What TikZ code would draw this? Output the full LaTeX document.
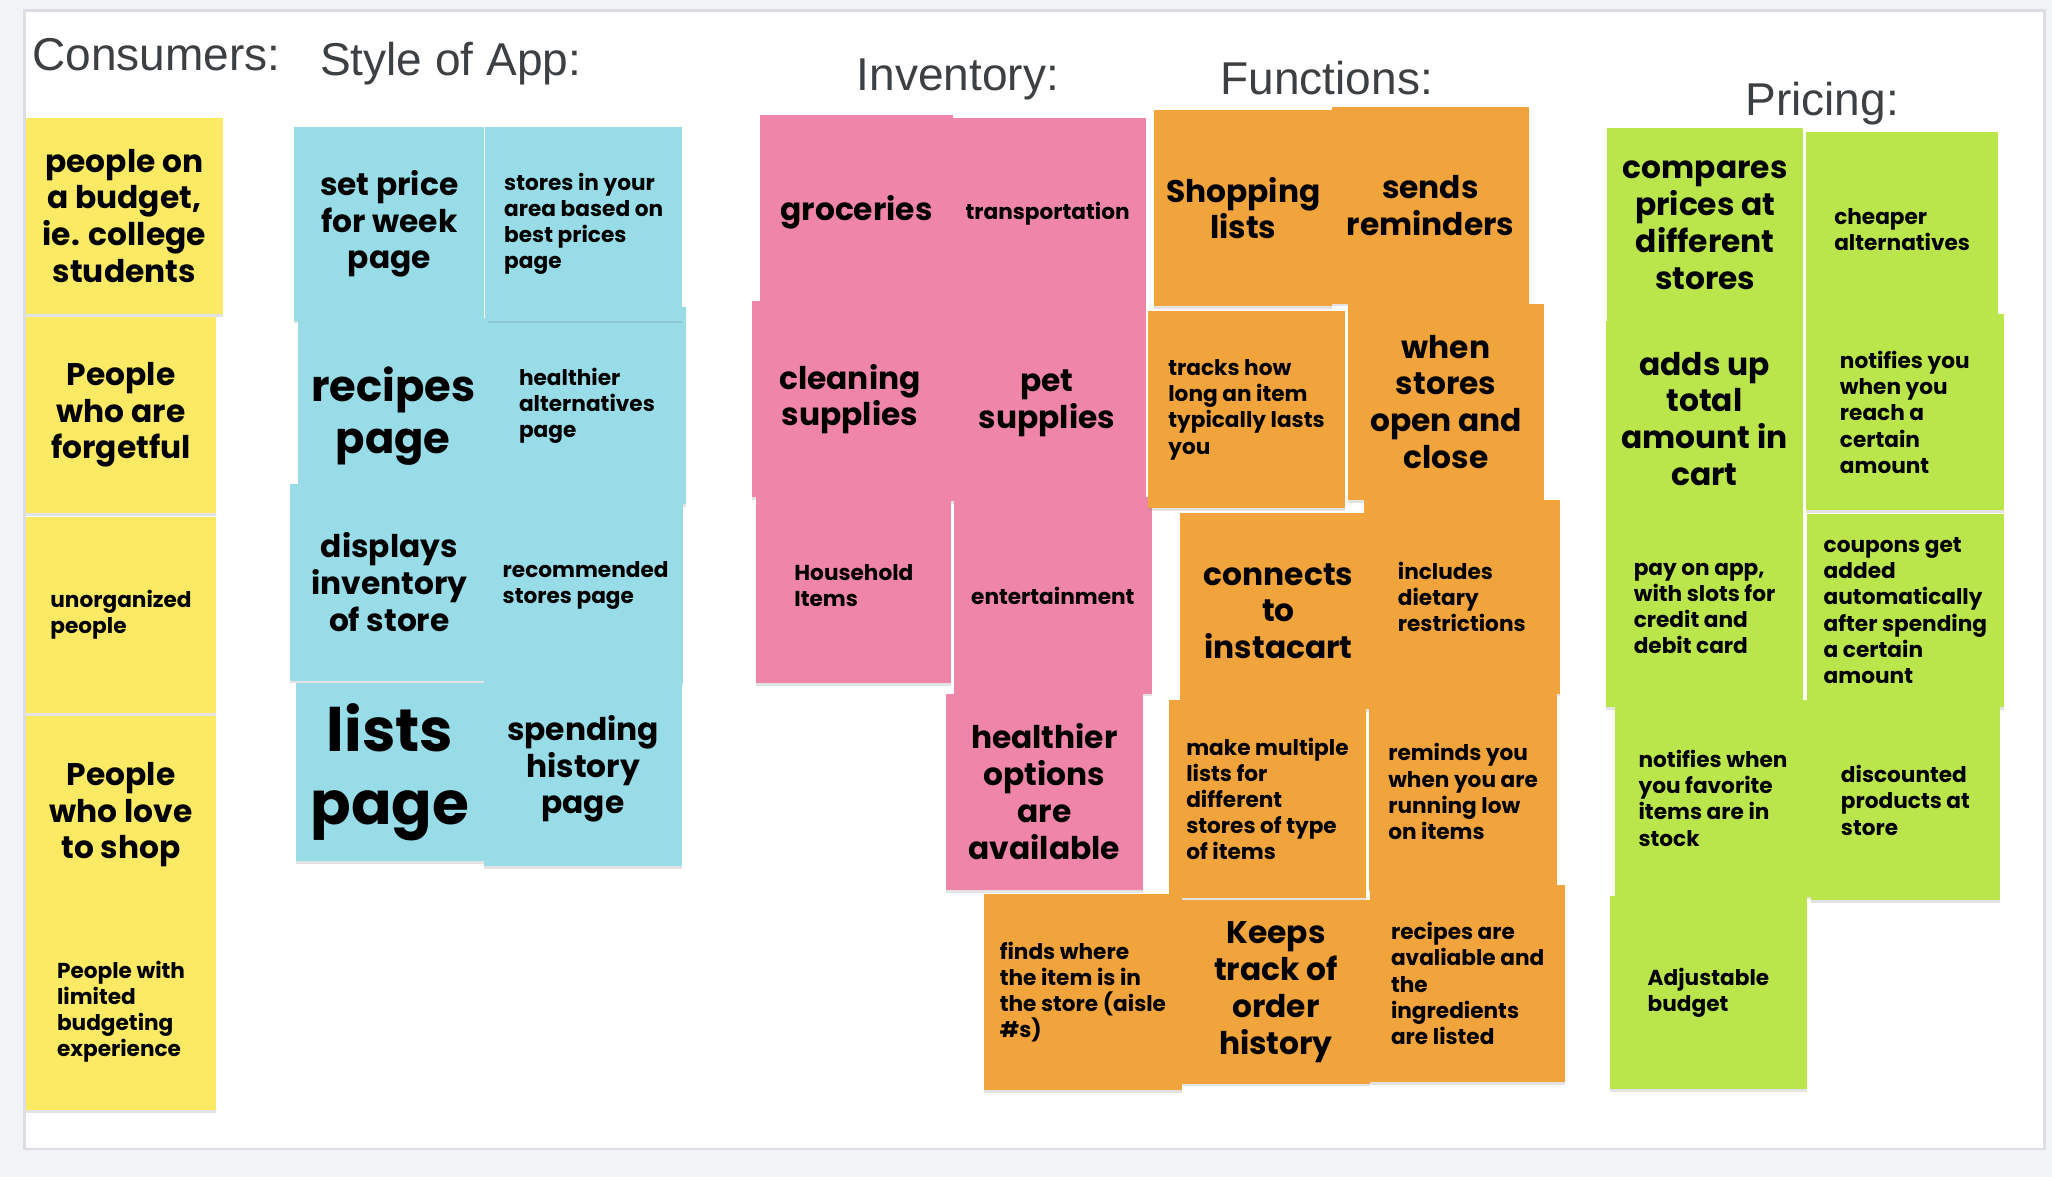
\documentclass[tikz,border=0pt]{standalone}
\usepackage{fontspec}
\setmainfont{Poppins}
\newfontfamily\headfont{Liberation Sans}
\usepackage{xcolor}
\definecolor{pagegray}{HTML}{F1F3F4}
\definecolor{edgegray}{HTML}{DCDEE1}
\definecolor{titlegray}{HTML}{3C4043}
\definecolor{stickyyellow}{HTML}{FCEA64}
\definecolor{stickyblue}{HTML}{98DCE8}
\definecolor{stickypink}{HTML}{EF86A9}
\definecolor{stickyorange}{HTML}{F1A33C}
\definecolor{stickygreen}{HTML}{BBE64B}
\usepackage{tikz}
\usetikzlibrary{shadows}
\tikzstyle{note} = [
    rectangle,
    inner sep=0pt,
    minimum width=1.5cm,
    minimum height=1.5cm,
    text=black,
    drop shadow={shadow xshift=0pt, shadow yshift=-0.6pt, opacity=0.22}
]
\tikzstyle{bignote} = [
    note,
    align=center,
    font=\bfseries\fontsize{6.8}{8}\selectfont
]
\tikzstyle{smallnote} = [
    note,
    align=left,
    font=\bfseries\fontsize{4.7}{5.7}\selectfont
]
\tikzstyle{heading} = [
    anchor=base west,
    inner sep=0pt,
    text=titlegray,
    font=\headfont\fontsize{10}{12}\selectfont
]

\begin{document}
\begin{tikzpicture}[x=0.01cm, y=-0.01cm]

\useasboundingbox (0,0) rectangle (1568,899);
\fill[pagegray] (0,0) rectangle (1568,899);
\filldraw[fill=white, draw=edgegray, line width=0.6pt] (19,8) rectangle (1562,878);

% headings
\node (hcons) [heading] at (24,54) {Consumers:};
\node (happ) [heading] at (244,58) {Style of App:};
\node (hinv) [heading] at (654,69) {Inventory:};
\node (hfun) [heading] at (932,72) {Functions:};
\node (hpri) [heading] at (1333,88) {Pricing:};

% consumers
\node (cons1) [bignote, fill=stickyyellow] at (95,165)
    {people on\\a budget,\\ie. college\\students};
\node (cons2) [bignote, fill=stickyyellow, minimum width=1.45cm] at (92.5,317)
    {People\\who are\\forgetful};
\node (cons3) [smallnote, fill=stickyyellow, minimum width=1.45cm] at (92.5,470)
    {unorganized\\people};
\node (cons4) [bignote, fill=stickyyellow, minimum width=1.45cm] at (92.5,622.5)
    {People\\who love\\to shop};
\node (cons5) [smallnote, fill=stickyyellow, minimum width=1.45cm] at (92.5,773)
    {People with\\limited\\budgeting\\experience};

% style of app
\node (app1) [bignote, fill=stickyblue, minimum width=1.45cm, minimum height=1.48cm] at (297.5,171)
    {set price\\for week\\page};
\node (app4) [smallnote, fill=stickyblue, minimum width=1.51cm] at (448.5,310)
    {healthier\\alternatives\\page};
\node (app2) [smallnote, fill=stickyblue, minimum height=1.48cm] at (446,171)
    {stores in your\\area based on\\best prices\\page};
\node (app3) [bignote, fill=stickyblue, minimum width=1.45cm,
    font=\bfseries\fontsize{9.4}{11.4}\selectfont] at (300.5,318)
    {recipes\\page};
\node (app5) [bignote, fill=stickyblue, minimum width=1.51cm] at (297.5,445)
    {displays\\inventory\\of store};
\node (app6) [smallnote, fill=stickyblue, minimum width=1.49cm, minimum height=1.49cm] at (447.5,447.5)
    {recommended\\stores page};
\node (app7) [bignote, fill=stickyblue, minimum width=1.44cm, minimum height=1.36cm,
    font=\bfseries\fontsize{13}{16}\selectfont] at (298,590)
    {lists\\page};
\node (app8) [bignote, fill=stickyblue, minimum width=1.51cm, minimum height=1.49cm] at (445.5,587.5)
    {spending\\history\\page};

% inventory
\node (inv1) [bignote, fill=stickypink, minimum width=1.47cm, minimum height=1.48cm] at (654.5,162)
    {groceries};
\node (inv2) [smallnote, fill=stickypink, minimum width=1.51cm, minimum height=1.46cm] at (800.5,163)
    {transportation};
\node (inv3) [bignote, fill=stickypink, minimum width=1.49cm] at (649.5,305)
    {cleaning\\supplies};
\node (inv4) [bignote, fill=stickypink, minimum width=1.52cm] at (800,308)
    {pet\\supplies};
\node (inv5) [smallnote, fill=stickypink, minimum width=1.49cm, minimum height=1.49cm] at (652.5,447.5)
    {Household\\Items};
\node (inv6) [smallnote, fill=stickypink, minimum width=1.51cm] at (804.5,455)
    {entertainment};
\node (inv7) [bignote, fill=stickypink] at (798,605)
    {healthier\\options\\are\\available};

% functions
\node (fun1) [bignote, fill=stickyorange, minimum width=1.36cm] at (950,159)
    {Shopping\\lists};
\node (fun2) [bignote, fill=stickyorange] at (1093,157)
    {sends\\reminders};
\node (fun3) [smallnote, fill=stickyorange, minimum width=1.51cm] at (952.5,313)
    {tracks how\\long an item\\typically lasts\\you};
\node (fun4) [bignote, fill=stickyorange] at (1105,307)
    {when\\stores\\open and\\close};
\node (fun6) [smallnote, fill=stickyorange, minimum height=1.48cm] at (1117,456)
    {includes\\dietary\\restrictions};
\node (fun5) [bignote, fill=stickyorange] at (977,467)
    {connects\\to\\instacart};
\node (fun8) [smallnote, fill=stickyorange, minimum width=1.44cm] at (1118,605)
    {reminds you\\when you are\\running low\\on items};
\node (fun7) [smallnote, fill=stickyorange, minimum width=1.51cm, minimum height=1.51cm] at (968.5,610.5)
    {make multiple\\lists for\\different\\stores of type\\of items};
\node (fun9) [smallnote, fill=stickyorange, minimum width=1.51cm] at (827.5,758)
    {finds where\\the item is in\\the store (aisle\\\#s)};
\node (fun10) [bignote, fill=stickyorange, minimum width=1.44cm, minimum height=1.40cm] at (975,758)
    {Keeps\\track of\\order\\history};
\node (fun11) [smallnote, fill=stickyorange, minimum width=1.49cm, minimum height=1.51cm] at (1121.5,751.5)
    {recipes are\\avaliable and\\the\\ingredients\\are listed};

% pricing
\node (pri2) [smallnote, fill=stickygreen, minimum width=1.47cm, minimum height=1.49cm] at (1453.5,175.5)
    {cheaper\\alternatives};
\node (pri1) [bignote, fill=stickygreen, minimum height=1.48cm] at (1303,172)
    {compares\\prices at\\different\\stores};
\node (pri4) [smallnote, fill=stickygreen, minimum width=1.51cm] at (1455.5,315)
    {notifies you\\when you\\reach a\\certain\\amount};
\node (pri3) [bignote, fill=stickygreen, minimum width=1.51cm] at (1302.5,320)
    {adds up\\total\\amount in\\cart};
\node (pri5) [smallnote, fill=stickygreen, minimum width=1.51cm] at (1302.5,465)
    {pay on app,\\with slots for\\credit and\\debit card};
\node (pri6) [smallnote, fill=stickygreen, minimum height=1.47cm] at (1456,466.5)
    {coupons get\\added\\automatically\\after spending\\a certain\\amount};
\node (pri8) [smallnote, fill=stickygreen, minimum width=1.44cm, minimum height=1.53cm] at (1456,611.5)
    {discounted\\products at\\store};
\node (pri7) [smallnote, fill=stickygreen] at (1309,610)
    {notifies when\\you favorite\\items are in\\stock};
\node (pri9) [smallnote, fill=stickygreen, minimum width=1.51cm, minimum height=1.47cm] at (1305.5,758.5)
    {Adjustable\\budget};

\end{tikzpicture}
\end{document}
